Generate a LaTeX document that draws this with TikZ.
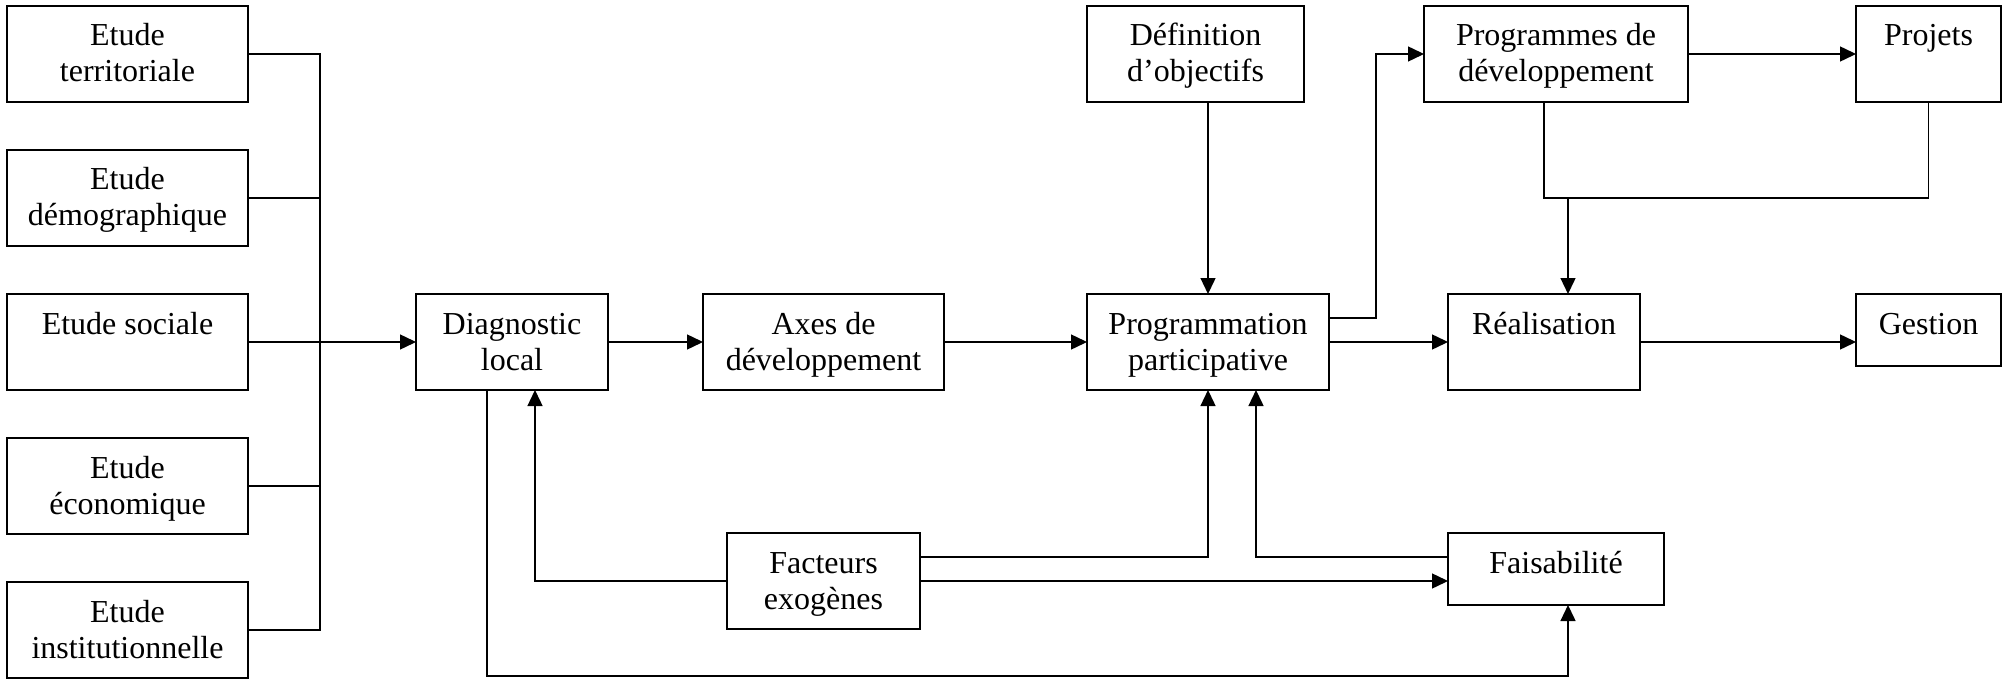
\documentclass[tikz,border=0pt]{standalone}
\usepackage{fontspec}
\setmainfont{Liberation Serif}
\usetikzlibrary{arrows.meta}
\begin{document}
\begin{tikzpicture}[x=0.5pt,y=-0.5pt,
  box/.style={draw, rectangle, line width=0.7pt, inner sep=0pt, outer sep=0pt},
  lbl/.style={anchor=north, inner sep=0pt, outer sep=0pt, align=center,
              font=\fontsize{16}{18}\selectfont},
  link/.style={line width=0.7pt},
  arr/.style={link, -{Triangle[length=8pt,width=7.5pt]}}]
\fill[white] (0,0) rectangle (2011,679);
\useasboundingbox (0,0) rectangle (2011,679);

% studies column
\node[box, minimum width=120.5pt, minimum height=48pt] (terr) at (127.5,54) {};
\node[box, minimum width=120.5pt, minimum height=48pt] (demo) at (127.5,198) {};
\node[box, minimum width=120.5pt, minimum height=48pt] (soc)  at (127.5,342) {};
\node[box, minimum width=120.5pt, minimum height=48pt] (eco)  at (127.5,486) {};
\node[box, minimum width=120.5pt, minimum height=48pt] (inst) at (127.5,630) {};

% main chain
\node[box, minimum width=96pt,    minimum height=48pt] (diag) at (512,342) {};
\node[box, minimum width=120.5pt, minimum height=48pt] (axes) at (823.5,342) {};
\node[box, minimum width=121pt,   minimum height=48pt] (prog) at (1208,342) {};
\node[box, minimum width=108.5pt, minimum height=48pt] (def)  at (1195.5,54) {};
\node[box, minimum width=132pt,   minimum height=48pt] (progdev) at (1556,54) {};
\node[box, minimum width=72.5pt,  minimum height=48pt] (projets) at (1928.5,54) {};
\node[box, minimum width=96pt,    minimum height=48pt] (real) at (1544,342) {};
\node[box, minimum width=72.5pt,  minimum height=36pt] (gestion) at (1928.5,330) {};
\node[box, minimum width=96.5pt,  minimum height=48pt] (fact) at (823.5,581) {};
\node[box, minimum width=108pt,   minimum height=36pt] (faisab) at (1556,569) {};

% labels
\node[lbl] (terr-t) at ([yshift=-7.4pt]terr.north) {\strut Etude\\\strut territoriale};
\node[lbl] (demo-t) at ([yshift=-7.4pt]demo.north) {\strut Etude\\\strut démographique};
\node[lbl] (soc-t)  at ([yshift=-7.4pt]soc.north)  {\strut Etude sociale};
\node[lbl] (eco-t)  at ([yshift=-7.4pt]eco.north)  {\strut Etude\\\strut économique};
\node[lbl] (inst-t) at ([yshift=-7.4pt]inst.north) {\strut Etude\\\strut institutionnelle};
\node[lbl] (diag-t) at ([yshift=-7.4pt]diag.north) {\strut Diagnostic\\\strut local};
\node[lbl] (axes-t) at ([yshift=-7.4pt]axes.north) {\strut Axes de\\\strut développement};
\node[lbl] (prog-t) at ([yshift=-7.4pt]prog.north) {\strut Programmation\\\strut participative};
\node[lbl] (def-t)  at ([yshift=-7.4pt]def.north)  {\strut Définition\\\strut d’objectifs};
\node[lbl] (progdev-t) at ([yshift=-7.4pt]progdev.north) {\strut Programmes de\\\strut développement};
\node[lbl] (projets-t) at ([yshift=-7.4pt]projets.north) {\strut Projets};
\node[lbl] (real-t) at ([yshift=-7.4pt]real.north) {\strut Réalisation};
\node[lbl] (gestion-t) at ([yshift=-7.4pt]gestion.north) {\strut Gestion};
\node[lbl] (fact-t) at ([yshift=-7.4pt]fact.north) {\strut Facteurs\\\strut exogènes};
\node[lbl] (faisab-t) at ([yshift=-7.4pt]faisab.north) {\strut Faisabilité};

% helper points for the routed connectors
\coordinate (bus) at (320,0);
\coordinate (pj)  at (1376,0);
\coordinate (pdd) at (1544,198);
\coordinate (rj)  at (1568,198);
\coordinate (fl)  at (535,0);
\coordinate (pr)  at (1256,0);
\coordinate (dl)  at (487,676);
\coordinate (fb)  at (1568,676);

% studies feed the diagnosis
\draw[link] (terr.east) -| (bus |- inst.east) -- (inst.east);
\draw[link] (demo.east) -- (demo.east -| bus);
\draw[link] (eco.east) -- (eco.east -| bus);
\draw[arr] (soc.east) -- (diag.west);

% main chain
\draw[arr] (diag.east) -- (axes.west);
\draw[arr] (axes.east) -- (prog.west);
\draw[arr] (prog.north |- def.south) -- (prog.north);
\draw[arr] ([yshift=12pt]prog.east) -| (pj |- progdev.west) -- (progdev.west);
\draw[arr] (prog.east) -- (real.west);
\draw[arr] (progdev.east) -- (projets.west);
\draw[link] (pdd |- progdev.south) -- (pdd) -| (projets.south);
\draw[arr] (rj) -- (rj |- real.north);
\draw[arr] (real.east) -- (real.east -| gestion.west);

% feedback loops
\draw[arr] (fact.west) -| (fl |- diag.south);
\draw[arr] ([yshift=12pt]fact.east) -| (prog.south);
\draw[arr] (fact.east) -- (fact.east -| faisab.west);
\draw[arr] ([yshift=6pt]faisab.west) -| (pr |- prog.south);
\draw[arr] (dl |- diag.south) -- (dl) -- (fb) -- (fb |- faisab.south);
\end{tikzpicture}
\end{document}
